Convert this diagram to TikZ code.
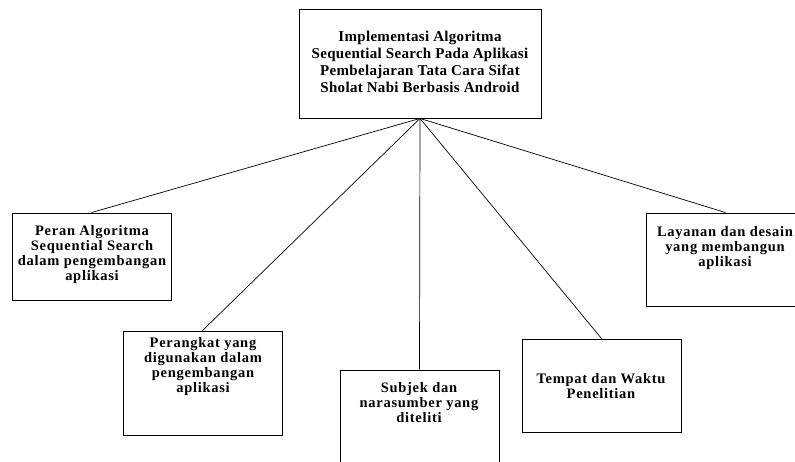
\documentclass[tikz,border=0pt]{standalone}
\usepackage{fontspec}
\setmainfont{Liberation Serif}
\newfontfamily\boxfont[LetterSpace=5]{Liberation Serif}
\newfontfamily\topfont[LetterSpace=2]{Liberation Serif}
\begin{document}
\begin{tikzpicture}[x=1pt,y=-1pt,
  box/.style={draw, line width=0.9pt, inner sep=0pt},
  lbl/.style={align=center, font=\boxfont\bfseries\fontsize{14.5}{15}\selectfont, inner sep=0pt},
  toplbl/.style={align=center, font=\topfont\bfseries\fontsize{15}{17}\selectfont, inner sep=0pt},
  link/.style={line width=0.7pt}]
\useasboundingbox (0,0) rectangle (795,462);
\clip (0,0) rectangle (795,462);
% boxes
\node[box, minimum width=242pt, minimum height=109pt] (top) at (420,63.5) {};
\node[box, minimum width=159pt, minimum height=87pt] (b1) at (91.5,256.5) {};
\node[box, minimum width=159pt, minimum height=104pt] (b2) at (202.5,383) {};
\node[box, minimum width=159pt, minimum height=110pt] (b3) at (419.5,425) {};
\node[box, minimum width=159pt, minimum height=93pt] (b4) at (601.5,385.5) {};
\node[box, minimum width=159pt, minimum height=93pt] (b5) at (725.5,259.5) {};
% texts
\node[toplbl] (t0) at (420,62) {Implementasi Algoritma\\Sequential Search Pada Aplikasi\\Pembelajaran Tata Cara Sifat\\Sholat Nabi Berbasis Android};
\node[lbl] (t1) at (92,254.5) {Peran Algoritma\\Sequential Search\\dalam pengembangan\\aplikasi};
\node[lbl] (t2) at (203,366.5) {Perangkat yang\\digunakan dalam\\pengembangan\\aplikasi};
\node[lbl] (t3) at (419,403) {Subjek dan\\narasumber yang\\diteliti};
\node[lbl] (t4) at (601,386) {Tempat dan Waktu\\Penelitian};
\node[lbl] (t5) at (725,248) {Layanan dan desain\\yang membangun\\aplikasi};
% connectors
\draw[link] (top.south) -- (b1.north);
\draw[link] (top.south) -- (b2.north);
\draw[link] (top.south) -- (b3.north);
\draw[link] (top.south) -- (b4.north);
\draw[link] (top.south) -- (b5.north);
\end{tikzpicture}
\end{document}
